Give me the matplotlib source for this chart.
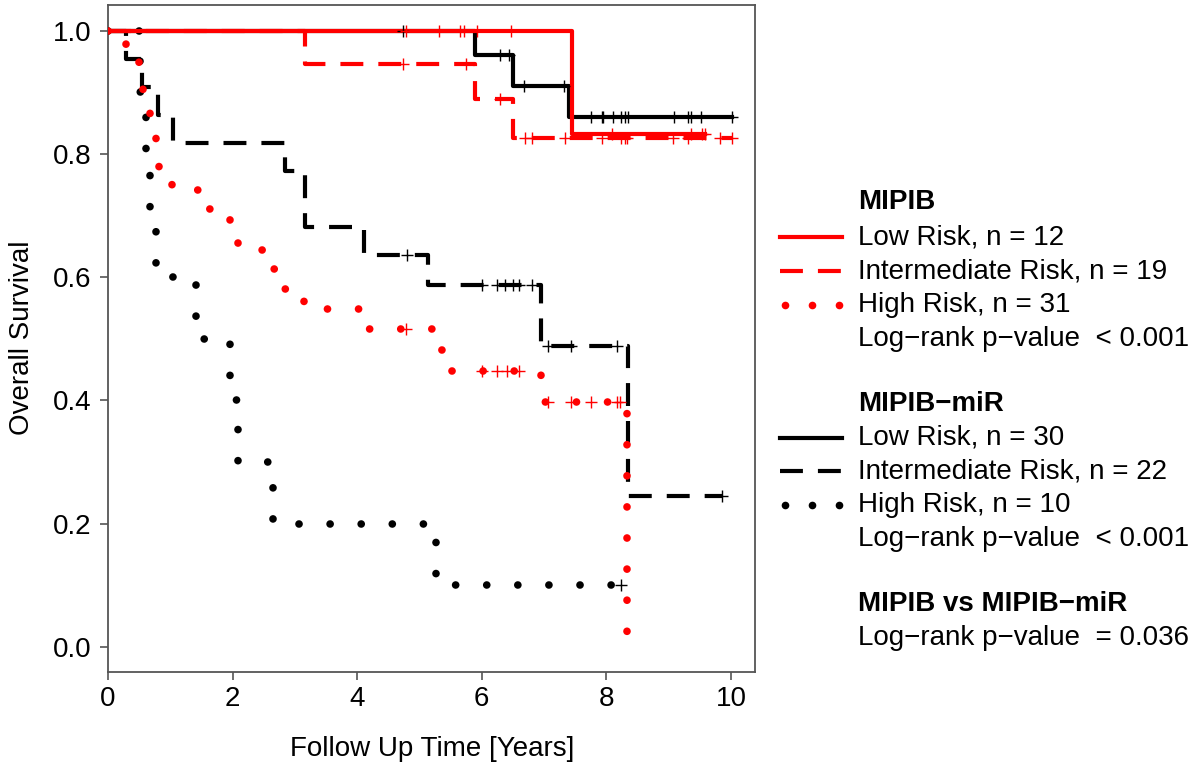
import matplotlib
matplotlib.use('Agg')
import matplotlib.pyplot as plt
import numpy as np

plt.rcParams['font.family'] = ['Liberation Sans', 'DejaVu Sans']

# ---- Kaplan-Meier curves (step times in years, survival after step) ----
# MIPIB (red)
mipib_low_t = [0, 7.45]
mipib_low_s = [1.0, 0.833]
mipib_low_end = 9.58
mipib_low_cens = [4.78, 5.31, 5.65, 5.71, 5.92, 6.47, 8.09, 9.36, 9.53, 9.58]

mipib_int_t = [0, 3.16, 5.89, 6.50]
mipib_int_s = [1.0, 0.947, 0.890, 0.826]
mipib_int_end = 10.02
mipib_int_cens = [4.74, 5.75, 6.29, 6.69, 6.81, 7.33, 7.93, 8.23, 8.30, 8.33,
                  9.07, 9.31, 9.82, 10.02]

mipib_high_t = [0, 0.29, 0.50, 0.56, 0.67, 0.77, 0.82, 1.03, 1.62, 1.96, 2.09,
                2.66, 2.84, 3.15, 4.19, 5.28, 5.51, 6.95, 8.33]
mipib_high_s = [1.0, 0.968, 0.935, 0.903, 0.839, 0.806, 0.774, 0.742, 0.710, 0.677,
                0.645, 0.613, 0.581, 0.548, 0.516, 0.482, 0.448, 0.398, 0.0]
mipib_high_end = 8.33
mipib_high_cens = [4.78, 6.00, 6.24, 6.40, 6.60, 7.06, 7.43, 7.75, 8.17, 8.22]

# MIPIB-miR (black)
mir_low_t = [0, 5.89, 6.50, 7.40]
mir_low_s = [1.0, 0.961, 0.911, 0.860]
mir_low_end = 10.02
mir_low_cens = [4.73, 6.29, 6.44, 6.68, 7.32, 7.75, 7.93, 7.95, 8.11, 8.23, 8.30,
                8.35, 9.09, 9.31, 9.36, 9.52, 10.02]

mir_int_t = [0, 0.29, 0.55, 0.80, 1.04, 2.84, 3.16, 4.11, 5.14, 6.95, 8.35]
mir_int_s = [1.0, 0.955, 0.909, 0.864, 0.818, 0.773, 0.682, 0.636, 0.587, 0.489, 0.245]
mir_int_end = 9.86
mir_int_cens = [4.80, 6.00, 6.24, 6.37, 6.50, 6.60, 6.81, 7.06, 7.43, 8.17, 9.86]

mir_high_t = [0, 0.51, 0.61, 0.67, 0.77, 1.41, 1.96, 2.09, 2.65, 5.26]
mir_high_s = [1.0, 0.9, 0.8, 0.7, 0.6, 0.5, 0.4, 0.3, 0.2, 0.1]
mir_high_end = 8.23
mir_high_cens = [8.23]

x_ticks = [0, 2, 4, 6, 8, 10]
y_ticks = [0.0, 0.2, 0.4, 0.6, 0.8, 1.0]

RED = '#ff0000'
BLACK = '#000000'
SOLID = dict(linestyle='-', lw=3.0)
DASHED = dict(linestyle=(0, (5.5, 3.6)), lw=3.0, dash_capstyle='butt')
DOTTED = dict(linestyle=(0, (0.01, 4.06)), lw=5.5, dash_capstyle='round')


def km(ax, t, s, end, cens, color, style):
    tt = list(t) + [end]
    ss = list(s) + [s[-1]]
    ax.step(tt, ss, where='post', color=color, zorder=3, **style)
    idx = np.searchsorted(t, cens, side='right') - 1
    ys = np.array(s)[idx]
    ax.plot(cens, ys, '+', color=color, ms=8, mew=1.0, zorder=4)


fig = plt.figure(figsize=(12.01, 7.71), dpi=100)
W, H = 1201, 771
ax = fig.add_axes([108 / W, (H - 672) / H, (755 - 108) / W, (672 - 5) / H])

# black first, red drawn on top
km(ax, mir_low_t, mir_low_s, mir_low_end, mir_low_cens, BLACK, SOLID)
km(ax, mir_int_t, mir_int_s, mir_int_end, mir_int_cens, BLACK, DASHED)
km(ax, mir_high_t, mir_high_s, mir_high_end, mir_high_cens, BLACK, DOTTED)
km(ax, mipib_low_t, mipib_low_s, mipib_low_end, mipib_low_cens, RED, SOLID)
km(ax, mipib_int_t, mipib_int_s, mipib_int_end, mipib_int_cens, RED, DASHED)
km(ax, mipib_high_t, mipib_high_s, mipib_high_end, mipib_high_cens, RED, DOTTED)

ax.set_xlim(0, 10.385)
ax.set_ylim(-0.041, 1.042)
ax.set_xticks(x_ticks)
ax.set_xticklabels([str(v) for v in x_ticks])
ax.set_yticks(y_ticks)
ax.set_yticklabels(['%.1f' % v for v in y_ticks])
ax.tick_params(direction='out', length=6, width=1.2, color='#555555',
               labelsize=20, pad=4)
ax.tick_params(axis='y', pad=6)
for sp in ax.spines.values():
    sp.set_color('#555555')
    sp.set_linewidth(1.3)

fig.text(22 / W, 1 - 338 / H, 'Overall Survival', rotation=90, fontsize=20,
         ha='center', va='center')
fig.text(432 / W, 1 - 749 / H, 'Follow Up Time [Years]', fontsize=20,
         ha='center', va='center')

# ---- legend drawn on an overlay in pixel coordinates ----
lg = fig.add_axes([0, 0, 1, 1], zorder=-1)
lg.set_xlim(0, W)
lg.set_ylim(H, 0)
lg.axis('off')

legend_rows = [
    ('MIPIB', None, None, True, 202),
    ('Low Risk, n = 12', RED, SOLID, False, 237),
    ('Intermediate Risk, n = 19', RED, DASHED, False, 271),
    ('High Risk, n = 31', RED, DOTTED, False, 305),
    ('Log\u2212rank p\u2212value  < 0.001', None, None, False, 339),
    ('MIPIB\u2212miR', None, None, True, 404),
    ('Low Risk, n = 30', BLACK, SOLID, False, 438),
    ('Intermediate Risk, n = 22', BLACK, DASHED, False, 471),
    ('High Risk, n = 10', BLACK, DOTTED, False, 505),
    ('Log\u2212rank p\u2212value  < 0.001', None, None, False, 539),
    ('MIPIB vs MIPIB\u2212miR', None, None, True, 604),
    ('Log\u2212rank p\u2212value  = 0.036', None, None, False, 638),
]
for label, color, style, bold, y in legend_rows:
    lg.text(858, y, label, fontsize=20, ha='left', va='center',
            fontweight='bold' if bold else 'normal')
    if color is not None:
        if style is DOTTED:
            lg.plot([785, 812, 839], [y, y, y], 'o', color=color, ms=5.5, mew=0)
        else:
            lg.plot([780, 842], [y, y], color=color, **style)

fig.savefig('out.png', dpi=100)
